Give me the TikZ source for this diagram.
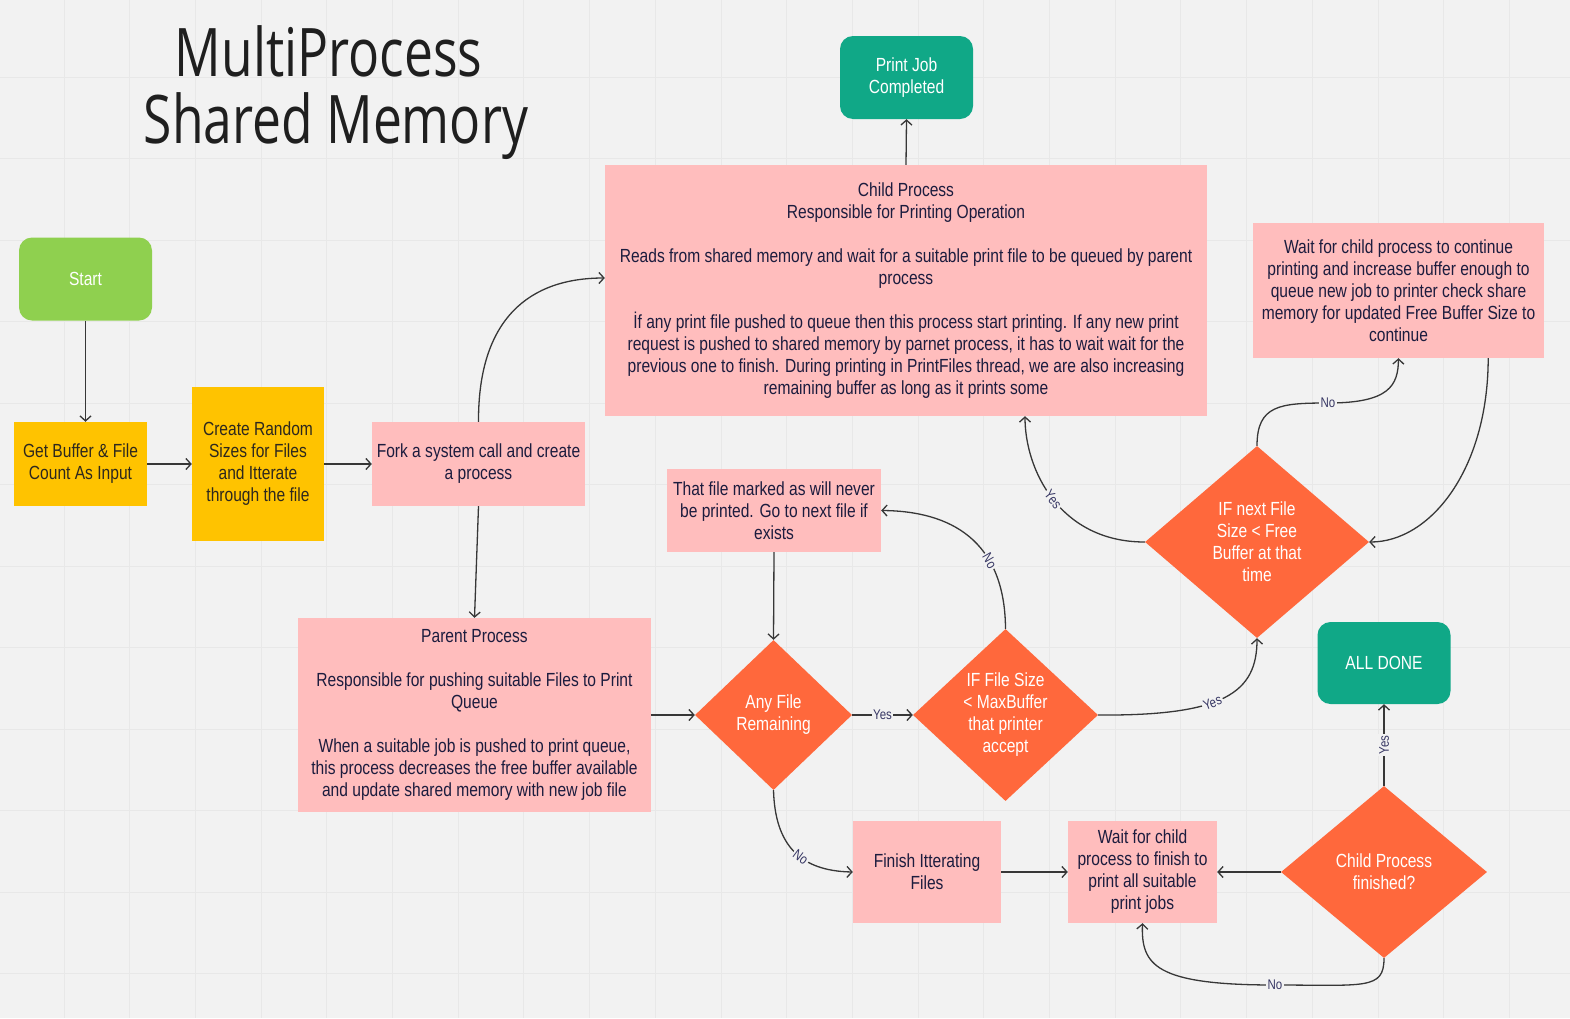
\documentclass[tikz,border=0pt]{standalone}
\usepackage{fontspec}
\setmainfont[FakeStretch=0.82]{Liberation Sans}
\newfontfamily\titlefont[FakeStretch=0.77]{Open Sans}
\usetikzlibrary{arrows.meta,shapes.geometric}
\definecolor{bgc}{RGB}{242,242,242}
\definecolor{gridc}{RGB}{232,232,232}
\definecolor{greenc}{RGB}{143,208,79}
\definecolor{tealc}{RGB}{16,168,135}
\definecolor{amberc}{RGB}{255,195,0}
\definecolor{pinkc}{RGB}{255,189,189}
\definecolor{orangec}{RGB}{255,104,60}
\definecolor{navyc}{RGB}{28,28,62}
\definecolor{amtextc}{RGB}{45,40,30}
\definecolor{edgec}{RGB}{55,55,55}
\definecolor{lblc}{RGB}{55,55,100}
\newcommand{\mynodefont}{\fontsize{19}{22}\selectfont}
\newcommand{\mylblfont}{\fontsize{14}{16}\selectfont}
\begin{document}
\begin{tikzpicture}[x=1pt,y=-1pt,
  box/.style={rectangle, inner sep=0pt, align=center, font=\mynodefont, text=navyc},
  pinkbox/.style={box, fill=pinkc},
  amberbox/.style={box, fill=amberc, text=amtextc},
  term/.style={box, rounded corners=13pt, text=white},
  dec/.style={diamond, inner sep=0pt, align=center, fill=orangec, text=white, font=\mynodefont},
  conn/.style={draw=edgec, line width=1.3pt, -{Straight Barb[length=5pt,width=11pt]}},
  lbl/.style={fill=bgc, inner sep=1.5pt, font=\mylblfont, text=lblc}]
\fill[bgc] (0,0) rectangle (1570,1018);
\useasboundingbox (0,0) rectangle (1570,1018);
\foreach \i in {1,...,24} {\draw[gridc, line width=0.9pt] (-1.7+65.7*\i,0) -- (-1.7+65.7*\i,1018);}
\foreach \j in {1,...,12} {\draw[gridc, line width=0.9pt] (0,-4.5+81.5*\j) -- (1570,-4.5+81.5*\j);}

% title
\node[anchor=base, inner sep=0pt, font=\titlefont\fontsize{67}{67}\selectfont, text=black!88] (title1) at (328.5,76) {MultiProcess};
\node[anchor=base, inner sep=0pt, font=\titlefont\fontsize{67}{67}\selectfont, text=black!88] (title2) at (336,143) {Shared Memory};

% nodes
\node[term, fill=greenc, minimum width=133pt, minimum height=83pt] (start) at (85.5,279) {Start};
\node[amberbox, minimum width=133pt, minimum height=84pt] (getbuf) at (80.5,464) {Get Buffer \& File\\Count As Input};
\node[amberbox, minimum width=132pt, minimum height=154pt] (create) at (258,464) {Create Random\\Sizes for Files\\and Itterate\\through the file};
\node[pinkbox, minimum width=213pt, minimum height=84pt] (fork) at (478.5,464) {Fork a system call and create\\a process};
\node[pinkbox, minimum width=353pt, minimum height=194pt] (parent) at (474.5,715) {Parent Process\\[22pt]Responsible for pushing suitable Files to Print\\Queue\\[22pt]When a suitable job is pushed to print queue,\\this process decreases the free buffer available\\and update shared memory with new job file};
\node[pinkbox, minimum width=602pt, minimum height=251pt] (child) at (906,290.5) {Child Process\\Responsible for Printing Operation\\[22pt]Reads from shared memory and wait for a suitable print file to be queued by parent\\process\\[22pt]İf any print file pushed to queue then this process start printing. If any new print\\request is pushed to shared memory by parnet process, it has to wait wait for the\\previous one to finish. During printing in PrintFiles thread, we are also increasing\\remaining buffer as long as it prints some};
\node[term, fill=tealc, minimum width=133pt, minimum height=83pt] (printjob) at (906.5,77.5) {Print Job\\Completed};
\node[pinkbox, minimum width=291pt, minimum height=135pt] (waitcont) at (1398.5,290.5) {Wait for child process to continue\\printing and increase buffer enough to\\queue new job to printer check share\\memory for updated Free Buffer Size to\\continue};
\node[dec, minimum width=224pt, minimum height=192pt] (ifnext) at (1257,542) {IF next File\\Size < Free\\Buffer at that\\time};
\node[term, fill=tealc, minimum width=133pt, minimum height=82pt] (alldone) at (1384,663) {ALL DONE};
\node[pinkbox, minimum width=214pt, minimum height=83pt] (marked) at (774,510.5) {That file marked as will never\\be printed. Go to next file if\\exists};
\node[dec, minimum width=157pt, minimum height=150pt] (anyfile) at (773.5,715) {Any File\\Remaining};
\node[dec, minimum width=185pt, minimum height=172pt] (iffile) at (1005.5,715) {IF File Size\\< MaxBuffer\\that printer\\accept};
\node[pinkbox, minimum width=148pt, minimum height=102pt] (finish) at (927,872) {Finish Itterating\\Files};
\node[pinkbox, minimum width=149pt, minimum height=102pt] (waitfin) at (1142.5,872) {Wait for child\\process to finish to\\print all suitable\\print jobs};
\node[dec, minimum width=206pt, minimum height=172pt] (childfin) at (1384,872) {Child Process\\finished?};

% connectors
\draw[conn] (start.south) -- (start.south |- getbuf.north);
\draw[conn] (getbuf.east) -- (create.west);
\draw[conn] (create.east) -- (fork.west);
\draw[conn] (fork.north) .. controls (478,318) and (530,278) .. ([yshift=12.5pt]child.west);
\draw[conn] (fork.south) -- (parent.north);
\draw[conn] (parent.east) -- (anyfile.west);
\draw[conn] (anyfile.east) -- node[lbl] {Yes} (iffile.west);
\draw[conn] (iffile.north) .. controls (1005,540) and (950,511) .. (marked.east) node[lbl, pos=0.32, sloped] {No};
\draw[conn] (marked.south) -- (anyfile.north);
\draw[conn] (iffile.east) .. controls (1225,716) and (1257,692) .. (ifnext.south) node[lbl, pos=0.42, sloped] {Yes};
\draw[conn] (anyfile.south) .. controls (775,845) and (800,871) .. (finish.west) node[lbl, pos=0.58, sloped] {No};
\draw[conn] (finish.east) -- (waitfin.west);
\draw[conn] (childfin.west) -- (waitfin.east);
\draw[conn] (childfin.south) .. controls (1384,990) and (1365,985) .. (1275,985) node[lbl] {No} .. controls (1155,985) and (1141,965) .. (waitfin.south);
\draw[conn] (childfin.north) -- (alldone.south) node[lbl, midway, sloped] {Yes};
\draw[conn] (ifnext.west) .. controls (1060,542) and (1025,470) .. ([xshift=119pt]child.south) node[lbl, pos=0.5, sloped] {Yes};
\draw[conn] (ifnext.north) .. controls (1257,405) and (1280,403) .. (1328,403) node[lbl] {No} .. controls (1390,403) and (1398,385) .. (waitcont.south);
\draw[conn] ([xshift=-56pt]waitcont.south east) .. controls (1488,470) and (1430,542) .. (ifnext.east);
\draw[conn] (child.north) -- (printjob.south);
\end{tikzpicture}
\end{document}
